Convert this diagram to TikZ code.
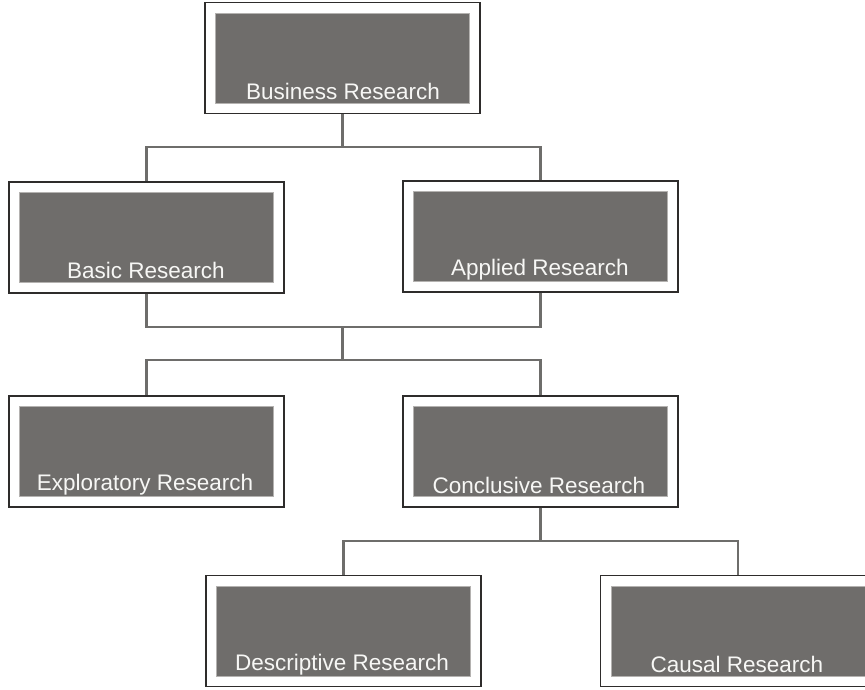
\documentclass[tikz,border=0pt]{standalone}
\usepackage{fontspec}
\setmainfont{Liberation Sans}
\definecolor{frame}{HTML}{2E2C2B}
\definecolor{panel}{HTML}{6F6D6B}
\definecolor{panelrim}{HTML}{B4B2B0}
\definecolor{wire}{HTML}{6E6D6B}
\definecolor{caption}{HTML}{F7F7F5}
\tikzset{
  outerbox/.style={draw=frame, line width=1.4pt, fill=white, minimum width=275pt, minimum height=111pt, inner sep=0pt},
  innerbox/.style={draw=panelrim, line width=0.8pt, fill=panel, minimum width=254pt, minimum height=90pt, inner sep=0pt},
  boxtext/.style={text=caption, font=\fontsize{22.5}{26}\selectfont, anchor=base, inner sep=0pt},
  conn/.style={draw=wire, line width=2.2pt}
}
\begin{document}
\begin{tikzpicture}[x=1pt,y=-1pt]
\clip (0,0) rectangle (865,689);
\fill[white] (0,0) rectangle (865,689);

% boxes: frame, grey panel, caption
\node[outerbox] (business) at (342.5,58) {};
\node[innerbox] (businessP) at (business) {};
\node[boxtext] (businessT) at (343,99) {Business Research};

\node[outerbox] (basic) at (146.5,237.5) {};
\node[innerbox] (basicP) at (basic) {};
\node[boxtext] (basicT) at (146,278) {Basic Research};

\node[outerbox] (applied) at (540.5,236.5) {};
\node[innerbox] (appliedP) at (applied) {};
\node[boxtext] (appliedT) at (540,275) {Applied Research};

\node[outerbox] (explor) at (146.5,451.5) {};
\node[innerbox] (explorP) at (explor) {};
\node[boxtext] (explorT) at (145,490) {Exploratory Research};

\node[outerbox] (concl) at (540.5,451.5) {};
\node[innerbox] (conclP) at (concl) {};
\node[boxtext] (conclT) at (539,493) {Conclusive Research};

\node[outerbox] (descr) at (343.5,631) {};
\node[innerbox] (descrP) at (descr) {};
\node[boxtext] (descrT) at (342,670) {Descriptive Research};

\node[outerbox] (causal) at (738,631) {};
\node[innerbox] (causalP) at (causal) {};
\node[boxtext] (causalT) at (737,672) {Causal Research};

% junction points of the tree
\coordinate (j1) at (342.5,147);
\coordinate (j2) at (342.5,327);
\coordinate (j3) at (342.5,360);
\coordinate (j4) at (540.5,541);

% connectors
\draw[conn] (business.south) -- (j1);
\draw[conn] (j1) -| (basic.north);
\draw[conn] (j1) -| (applied.north);

\draw[conn] (basic.south) |- (j2);
\draw[conn] (applied.south) |- (j2);
\draw[conn] (j2) -- (j3);
\draw[conn] (j3) -| (explor.north);
\draw[conn] (j3) -| (concl.north);

\draw[conn] (concl.south) -- (j4);
\draw[conn] (j4) -| (descr.north);
\draw[conn] (j4) -| (causal.north);
\end{tikzpicture}
\end{document}
